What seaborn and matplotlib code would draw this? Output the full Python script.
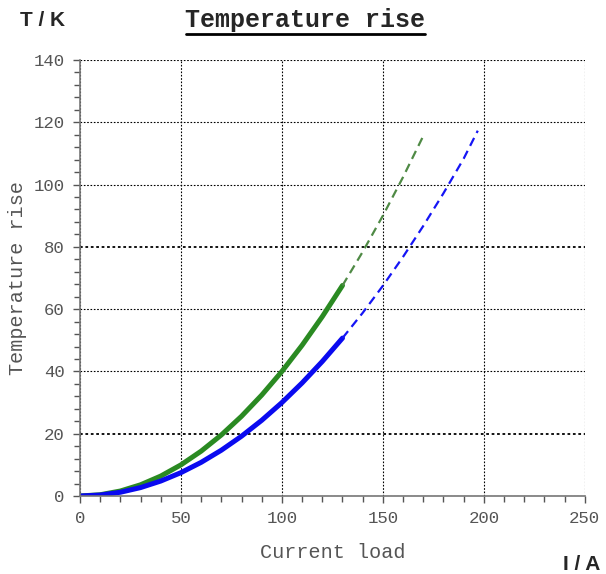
import numpy as np
import pandas as pd
import matplotlib
matplotlib.use('Agg')
import matplotlib.pyplot as plt
from matplotlib.lines import Line2D
from matplotlib.ticker import MultipleLocator
import seaborn as sns

# ── data ─────────────────────────────────────────────────────────────────────
green_solid_i = [0, 10, 20, 30, 40, 50, 60, 70, 80, 90, 100, 110, 120, 130]
green_solid_t = [0, 0.4, 1.6, 3.6, 6.4, 10, 14.4, 19.6, 25.6, 32.4, 40, 48.4, 57.6, 67.6]
green_dash_i = [130, 140, 150, 160, 170]
green_dash_t = [67.6, 78.4, 90, 102.4, 115.6]

blue_solid_i = [0, 10, 20, 30, 40, 50, 60, 70, 80, 90, 100, 110, 120, 130]
blue_solid_t = [0, 0.3, 1.2, 2.7, 4.8, 7.5, 10.8, 14.7, 19.2, 24.3, 30, 36.3, 43.2, 50.7]
blue_dash_i = [130, 140, 150, 160, 170, 180, 190, 197]
blue_dash_t = [50.7, 58.8, 67.5, 76.8, 86.7, 97.2, 108.3, 117.3]

x_ticks = [0, 50, 100, 150, 200, 250]
y_ticks = [0, 20, 40, 60, 80, 100, 120, 140]

MONO = 'Liberation Mono'
SANS = 'Liberation Sans'
GREY = '#555555'

sns.set_style('white')

fig = plt.figure(figsize=(6.06, 5.74), dpi=100)
ax = fig.add_axes([0.132, 0.1359, 0.833, 0.7596])

sns.lineplot(x=green_solid_i, y=green_solid_t, color='#2a8a22', linewidth=3.6, ax=ax)
sns.lineplot(x=green_dash_i, y=green_dash_t, color='#4f8a45', linewidth=1.6,
             linestyle=(0, (4, 2.5)), ax=ax)
sns.lineplot(x=blue_solid_i, y=blue_solid_t, color='#0a0af0', linewidth=3.6, ax=ax)
sns.lineplot(x=blue_dash_i, y=blue_dash_t, color='#1515f5', linewidth=1.6,
             linestyle=(0, (4, 2.5)), ax=ax)

ax.set_xlim(0, 250)
ax.set_ylim(0, 140)
ax.set_xticks(x_ticks)
ax.set_yticks(y_ticks)
ax.xaxis.set_minor_locator(MultipleLocator(10))
ax.yaxis.set_minor_locator(MultipleLocator(4))

ax.grid(True, which='major', color='black', linestyle=(0, (1.5, 1.5)), linewidth=0.8)
for val, gl in zip(y_ticks, ax.get_ygridlines()):
    if val in (20, 80):
        gl.set_linewidth(1.3)

for side in ('top', 'right'):
    ax.spines[side].set_visible(False)
for side in ('left', 'bottom'):
    ax.spines[side].set_color('#777777')
    ax.spines[side].set_linewidth(1.2)

ax.tick_params(which='major', direction='out', length=5, width=1, color='#555555',
               labelsize=12.5, labelcolor=GREY, pad=6)
ax.tick_params(which='minor', direction='out', length=4, width=1, color='#555555')
ax.tick_params(axis='x', which='both', bottom=True)
ax.tick_params(axis='y', which='both', left=True)
for lab in ax.get_xticklabels() + ax.get_yticklabels():
    lab.set_fontfamily(MONO)

ax.set_xlabel('Current load', fontfamily=MONO, fontsize=14.5, color=GREY, labelpad=12)
ax.set_ylabel('Temperature rise', fontfamily=MONO, fontsize=14.5, color=GREY, labelpad=5)

# title with underline, unit labels
fig.text(0.503, 0.965, 'Temperature rise', fontfamily=MONO, fontsize=18,
         fontweight='bold', ha='center', va='center')
fig.add_artist(Line2D([186 / 606, 425 / 606], [1 - 34 / 574, 1 - 34 / 574],
                      color='black', linewidth=2))
fig.text(20 / 606, 1 - 21 / 574, 'T / K', fontfamily=SANS, fontsize=15,
         fontweight='bold', ha='left', va='center')
fig.text(600 / 606, 1 - 565 / 574, 'I / A', fontfamily=SANS, fontsize=15,
         fontweight='bold', ha='right', va='center')

fig.savefig('out.png', dpi=100)
